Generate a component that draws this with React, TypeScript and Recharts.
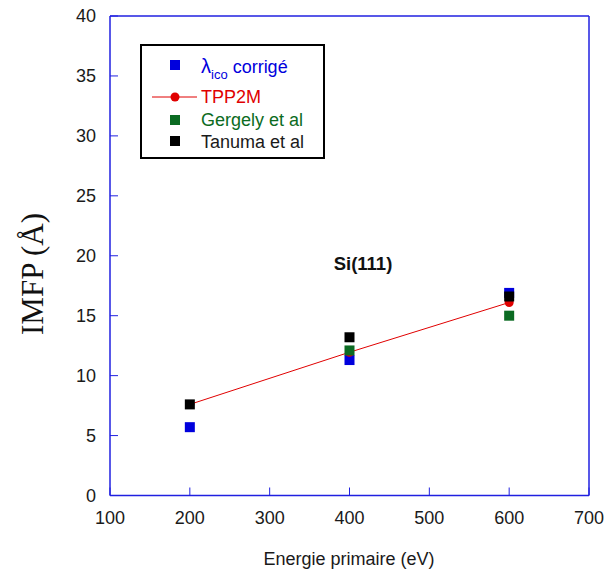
import React from "react";
import { ComposedChart, Scatter, XAxis, YAxis, ReferenceLine } from "recharts";

const xTicks = [100, 200, 300, 400, 500, 600, 700];
const yTicks = [0, 5, 10, 15, 20, 25, 30, 35, 40];

const lambdaIco = [
  { x: 200, y: 5.7 },
  { x: 400, y: 11.3 },
  { x: 600, y: 16.9 },
];
const tpp2m = [
  { x: 200, y: 7.6 },
  { x: 400, y: 11.95 },
  { x: 600, y: 16.1 },
];
const gergely = [
  { x: 400, y: 12.1 },
  { x: 600, y: 15.0 },
];
const tanuma = [
  { x: 200, y: 7.6 },
  { x: 400, y: 13.2 },
  { x: 600, y: 16.6 },
];

const AXIS = "#2020e0";
const BLUE = "#0000dd";
const RED = "#e00000";
const GREEN = "#0b6b22";
const BLACK = "#000000";
const FONT = "Liberation Sans, Arial, sans-serif";

const square = (color: string) => (props: any) => (
  <rect x={props.cx - 5} y={props.cy - 5} width={10} height={10} fill={color} />
);
const circle = (props: any) => <circle cx={props.cx} cy={props.cy} r={4.5} fill={RED} />;

export default function App() {
  return (
    <div style={{ position: "absolute", left: 0, top: 0 }}>
      <ComposedChart
        width={605}
        height={572}
        margin={{ top: 16, right: 16, bottom: 0, left: 0 }}
      >
        <XAxis
          type="number"
          dataKey="x"
          domain={[100, 700]}
          ticks={xTicks}
          allowDataOverflow
          height={76.5}
          stroke={AXIS}
          tickSize={-8}
          tickMargin={24}
          tick={{ fill: "#1a1a1a", fontSize: 18, fontFamily: FONT }}
          tickLine={{ stroke: AXIS }}
          axisLine={{ stroke: AXIS, strokeWidth: 1.5 }}
        />
        <YAxis
          type="number"
          dataKey="y"
          domain={[0, 40]}
          ticks={yTicks}
          allowDataOverflow
          width={110}
          stroke={AXIS}
          tickSize={-8}
          tickMargin={22}
          tick={{ fill: "#1a1a1a", fontSize: 18, fontFamily: FONT }}
          tickLine={{ stroke: AXIS }}
          axisLine={{ stroke: AXIS, strokeWidth: 1.5 }}
        />
        <ReferenceLine y={40} stroke={AXIS} strokeWidth={1.5} ifOverflow="visible" />
        <ReferenceLine x={700} stroke={AXIS} strokeWidth={1.5} ifOverflow="visible" />
        <Scatter data={lambdaIco} shape={square(BLUE)} isAnimationActive={false} />
        <Scatter
          data={tpp2m}
          shape={circle}
          line={{ stroke: RED, strokeWidth: 1 }}
          isAnimationActive={false}
        />
        <Scatter data={gergely} shape={square(GREEN)} isAnimationActive={false} />
        <Scatter data={tanuma} shape={square(BLACK)} isAnimationActive={false} />

        {/* Axis titles */}
        <text
          x={32}
          y={274}
          transform="rotate(-90, 32, 274)"
          textAnchor="middle"
          dominantBaseline="central"
          fontFamily="Liberation Serif, Times New Roman, serif"
          fontSize={31}
          fill="#111"
        >
          IMFP (Å)
        </text>
        <text x={349} y={565} textAnchor="middle" fontFamily={FONT} fontSize={18} fill="#1a1a1a">
          Energie primaire (eV)
        </text>

        {/* Annotation */}
        <text x={363} y={270} textAnchor="middle" fontFamily={FONT} fontSize={18.5} fontWeight="bold" fill="#111">
          Si(111)
        </text>

        {/* Legend */}
        <g>
          <rect x={141} y={45} width={183} height={113} fill="#fff" stroke="#000" strokeWidth={2} />
          <rect x={170} y={60} width={10} height={10} fill={BLUE} />
          <text x={201} y={73} fontFamily={FONT} fontSize={18} fill={BLUE}>
            <tspan fontSize={20}>λ</tspan>
            <tspan fontSize={13} dy={6}>ico</tspan>
            <tspan dy={-6}> corrigé</tspan>
          </text>
          <line x1={152} y1={97} x2={197} y2={97} stroke={RED} strokeWidth={1} />
          <circle cx={175} cy={97} r={4.5} fill={RED} />
          <text x={201} y={103} fontFamily={FONT} fontSize={18} fill={RED}>TPP2M</text>
          <rect x={170} y={115} width={10} height={10} fill={GREEN} />
          <text x={201} y={126} fontFamily={FONT} fontSize={18} fill={GREEN}>Gergely et al</text>
          <rect x={170} y={136} width={10} height={10} fill={BLACK} />
          <text x={201} y={148} fontFamily={FONT} fontSize={18} fill="#1a1a1a">Tanuma et al</text>
        </g>
      </ComposedChart>
    </div>
  );
}
